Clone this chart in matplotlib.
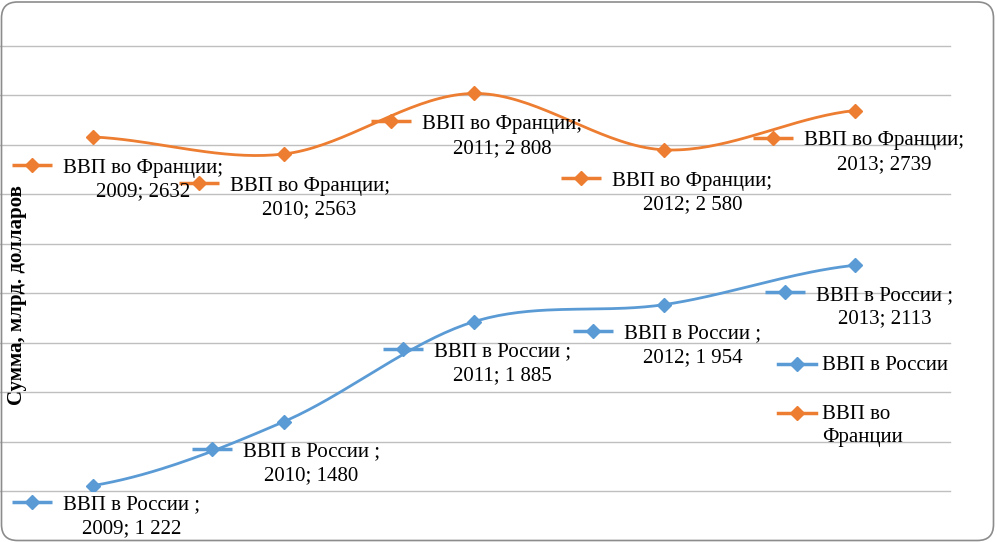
import numpy as np
import matplotlib
matplotlib.use("Agg")
import matplotlib.pyplot as plt
from matplotlib.lines import Line2D
from matplotlib.patches import FancyBboxPatch
from matplotlib.transforms import Affine2D, IdentityTransform

plt.rcParams['font.family'] = ['Liberation Serif', 'DejaVu Serif']

# ---- data ----
years = ["2009", "2010", "2011", "2012", "2013"]
russia = [1222, 1480, 1885, 1954, 2113]
france = [2632, 2563, 2808, 2580, 2739]
russia_labels = ["1 222", "1480", "1 885", "1 954", "2113"]
france_labels = ["2632", "2563", "2 808", "2 580", "2739"]
russia_name = "ВВП в России"
france_name = "ВВП во Франции"
y_label = "Сумма, млрд. долларов"

BLUE = "#5B9BD5"
ORANGE = "#ED7D31"
GRID = "#BFBFBF"

W, H = 997, 542
fig = plt.figure(figsize=(W / 100, H / 100), dpi=100)

# axes placement in pixels
ax_l, ax_r, ax_t, ax_b = -2, 950, 46, 491
ax = fig.add_axes([ax_l / W, (H - ax_b) / H, (ax_r - ax_l) / W, (ax_b - ax_t) / H])
ax.set_xlim(-0.5, 4.5)
ax.set_ylim(1200, 3000)
ax.set_yticks(np.arange(1200, 3001, 200))
ax.set_xticks([])
ax.tick_params(length=0, labelleft=False)
ax.yaxis.grid(True, color=GRID, lw=1.0)
ax.set_axisbelow(True)
for gl in ax.get_ygridlines():
    gl.set_clip_on(False)
for s in ax.spines.values():
    s.set_visible(False)
ax.patch.set_alpha(0)


def smooth(xs, ys, n=40):
    xs = np.asarray(xs, float)
    ys = np.asarray(ys, float)
    px = np.concatenate([[2 * xs[0] - xs[1]], xs, [2 * xs[-1] - xs[-2]]])
    py = np.concatenate([[ys[0]], ys, [ys[-1]]])
    outx, outy = [], []
    for i in range(1, len(px) - 2):
        p0x, p1x, p2x, p3x = px[i - 1:i + 3]
        p0y, p1y, p2y, p3y = py[i - 1:i + 3]
        c1x, c1y = p1x + (p2x - p0x) / 6, p1y + (p2y - p0y) / 6
        c2x, c2y = p2x - (p3x - p1x) / 6, p2y - (p3y - p1y) / 6
        t = np.linspace(0, 1, n)
        bx = (1 - t) ** 3 * p1x + 3 * (1 - t) ** 2 * t * c1x + 3 * (1 - t) * t ** 2 * c2x + t ** 3 * p2x
        by = (1 - t) ** 3 * p1y + 3 * (1 - t) ** 2 * t * c1y + 3 * (1 - t) * t ** 2 * c2y + t ** 3 * p2y
        outx.extend(bx)
        outy.extend(by)
    return np.array(outx), np.array(outy)


x = np.arange(len(years))
LW = 2.0
MS = 7.5
for vals, col in [(russia, BLUE), (france, ORANGE)]:
    sx, sy = smooth(x, vals)
    ax.plot(sx, sy, color=col, lw=LW, solid_capstyle='round', zorder=3)
    ax.plot(x, vals, ls='none', marker='D', ms=MS, color=col, zorder=4)

FS = 15
LS = 1.32

# label offsets in pixels (key diamond relative to point), image-down positive
fr_off = [(-61, 28), (-85, 29), (-83, 28), (-83, 28), (-82, 27)]
ru_off = [(-61, 16), (-72, 27), (-71, 27), (-71, 26), (-70, 27)]


def add_label(xi, yi, off, col, line1, line2):
    dx, dy = off
    tr = ax.transData + Affine2D().translate(dx, -dy)
    ax.plot([xi], [yi], marker='_', ms=29, mew=2.5, color=col, transform=tr, zorder=5, clip_on=False)
    ax.plot([xi], [yi], marker='D', ms=MS, color=col, transform=tr, zorder=6, clip_on=False)
    trt = ax.transData + Affine2D().translate(dx + 31, -dy - 15)
    ax.text(xi, yi, line1 + "\n" + line2, transform=trt, ha='left', va='center',
            multialignment='center', fontsize=FS, linespacing=LS, zorder=7, clip_on=False)


for i in range(len(years)):
    add_label(x[i], france[i], fr_off[i], ORANGE, france_name + ";", f"{years[i]}; {france_labels[i]}")
    add_label(x[i], russia[i], ru_off[i], BLUE, russia_name + " ;", f"{years[i]}; {russia_labels[i]}")

# y-axis title
fig.text(17 / W, 1 - 295 / H, y_label, rotation=90, ha='center', va='center',
         fontsize=15, fontweight='bold')


def fig_pt(px, py):
    return px / W, 1 - py / H


# legend (manual, pixel placement)
for (name, col, ky) in [(russia_name, BLUE, 364), (france_name.replace(" Ф", "\nФ"), ORANGE, 413)]:
    x0, y0 = fig_pt(778, ky)
    x1, _ = fig_pt(816, ky)
    xm, _ = fig_pt(797, ky)
    fig.add_artist(Line2D([x0, x1], [y0, y0], color=col, lw=2.5, transform=fig.transFigure))
    fig.add_artist(Line2D([xm], [y0], marker='D', ms=MS, color=col, transform=fig.transFigure))
    tx, ty = fig_pt(822, ky - 8)
    fig.text(tx, ty, name, ha='left', va='top', fontsize=FS, linespacing=LS)

# rounded chart border
border = FancyBboxPatch((1.5, 1.5), 992, 538.5, boxstyle="round,pad=0,rounding_size=16",
                        transform=IdentityTransform(), fill=False, edgecolor="#8C8C8C", lw=1.2)
fig.add_artist(border)

fig.savefig("out.png", dpi=100)
